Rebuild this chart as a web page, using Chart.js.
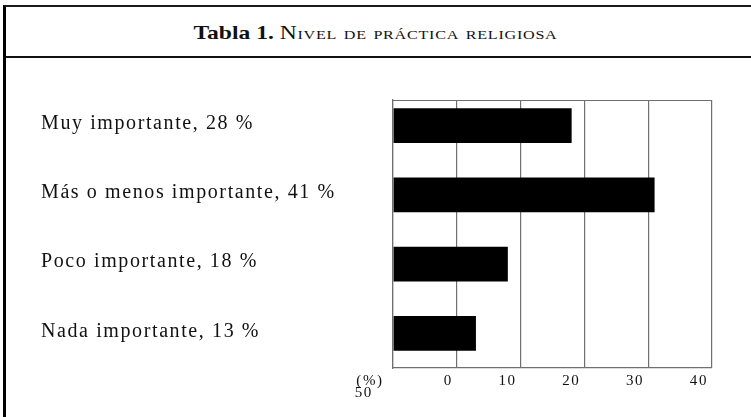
<!DOCTYPE html>
<html>
<head>
<meta charset="utf-8">
<script src="https://cdn.jsdelivr.net/npm/chart.js@4.4.1/dist/chart.umd.min.js"></script>
<style>
html,body{margin:0;padding:0;background:#fff;overflow:hidden;width:751px;height:417px;}
#frame{position:absolute;left:3px;top:5px;width:900px;height:500px;border-left:3px solid #000;border-top:2px solid #1a1a1a;}
#head{position:absolute;left:0;top:0;width:900px;height:49px;border-bottom:2px solid #111;}
#title{position:absolute;left:0;top:23px;width:751px;text-align:center;font-family:"Liberation Serif",serif;font-size:19px;line-height:1;color:#111;white-space:nowrap;transform:scaleX(1.24);transform-origin:375.5px 50%;}
#title b{font-weight:bold;}
#title span{font-variant:small-caps;letter-spacing:0.6px;}
#c{position:absolute;left:0;top:58px;}
</style>
</head>
<body>
<div id="frame"><div id="head"></div></div>
<div id="title"><b>Tabla 1.</b> <span>Nivel de práctica religiosa</span></div>
<canvas id="c" width="751" height="359"></canvas>
<script>
const categories = ["Muy importante, 28 %", "Más o menos importante, 41 %", "Poco importante, 18 %", "Nada importante, 13 %"];
const values = [28, 41, 18, 13];
const xTickValues = [0, 10, 20, 30, 40, 50];
const xTickLabels = [["(%) ", "50   "], "0", "10", "20", "30", "40"];

const GRID = '#707070';
const SERIF = '"Liberation Serif", "Times New Roman", "DejaVu Serif", serif';

const spacing = {
  id: 'spacing',
  beforeUpdate(chart) { chart.ctx.letterSpacing = '1.6px'; },
  beforeDraw(chart) { chart.ctx.letterSpacing = '1.6px'; }
};
const frameTop = {
  id: 'frameTop',
  beforeDatasetsDraw(chart) {
    const { ctx, chartArea: a } = chart;
    ctx.save();
    ctx.strokeStyle = GRID;
    ctx.lineWidth = 1.2;
    ctx.beginPath();
    ctx.moveTo(a.left, Math.round(a.top) + 0.5);
    ctx.lineTo(a.right, Math.round(a.top) + 0.5);
    ctx.stroke();
    ctx.restore();
  }
};

new Chart(document.getElementById('c'), {
  type: 'bar',
  data: {
    datasets: [{
      data: values.map((v, i) => ({ x: v, y: i })),
      backgroundColor: '#000',
      borderWidth: 0,
      categoryPercentage: 1,
      barPercentage: 0.5
    }]
  },
  options: {
    indexAxis: 'y',
    responsive: false,
    animation: false,
    events: [],
    layout: { padding: { left: 41, right: 39, top: 42, bottom: 0 } },
    plugins: { legend: { display: false }, tooltip: { enabled: false }, title: { display: false } },
    scales: {
      x: {
        type: 'linear', position: 'bottom', min: 0, max: 50,
        afterBuildTicks: s => { s.ticks = xTickValues.map(v => ({ value: v })); },
        afterFit: s => { s.height = 49; },
        grid: { color: GRID, lineWidth: 1.2, drawTicks: false },
        border: { display: true, color: GRID, width: 1.2 },
        ticks: {
          align: 'end', labelOffset: -4, padding: 7, color: '#111',
          font: { family: SERIF, size: 15, lineHeight: '12px' },
          callback: (v, i) => xTickLabels[i], maxRotation: 0, autoSkip: false
        }
      },
      y: {
        type: 'linear', position: 'left', reverse: true, min: -0.37, max: 3.5, offset: false,
        afterBuildTicks: s => { s.ticks = categories.map((c, i) => ({ value: i })); },
        afterFit: s => { s.width = 352; },
        grid: { display: false, offset: false },
        border: { display: true, color: GRID, width: 1.2 },
        ticks: {
          crossAlign: 'far', labelOffset: -2, color: '#111',
          font: { family: SERIF, size: 20 },
          callback: v => categories[v], autoSkip: false
        }
      }
    }
  },
  plugins: [spacing, frameTop]
});
</script>
</body>
</html>
